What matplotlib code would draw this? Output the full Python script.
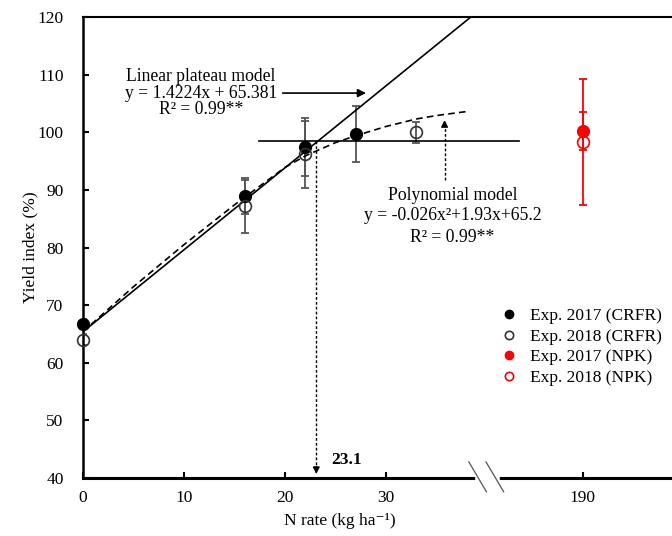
import matplotlib
matplotlib.use("Agg")
import matplotlib.pyplot as plt
from matplotlib.lines import Line2D

plt.rcParams["font.family"] = ["Liberation Serif", "DejaVu Serif"]
plt.rcParams["font.size"] = 12

# CRFR experiments (yield index %, error bars)
n_crfr_2017 = [0, 16, 22, 27]
yi_crfr_2017 = [66.8, 88.9, 97.4, 99.7]
err_crfr_2017 = [0.8, 3.1, 5.0, 4.9]
n_crfr_2018 = [0, 16, 22, 33]
yi_crfr_2018 = [64.0, 87.2, 96.2, 100.0]
err_crfr_2018 = [1.0, 4.6, 5.8, 1.8]

# NPK treatment at 190 kg/ha, drawn after the axis break
n_npk = [190]
yi_npk_2017 = [100.2]
err_npk_2017 = [3.3]
yi_npk_2018 = [98.3]
err_npk_2018 = [10.9]

# linear plateau model
lin_slope, lin_icpt = 1.4224, 65.381
lin_x = [0, 40]
plateau_x = [17.4, 43.2]
plateau_y = 98.5
n_opt = 23.1

# polynomial model curve
poly_x = [0, 5, 10, 15, 20, 22, 25, 27, 30, 33, 35, 38]
poly_y = [65.4, 73.2, 80.5, 87.4, 93.9, 95.9, 98.2, 99.4, 101.0, 102.3, 102.9, 103.6]

xticks = [0, 10, 20, 30, 190]

# broken x axis: 190 is drawn at this position
NPK_POS = 49.5


def xpos(v):
    return NPK_POS if v >= 100 else v


fig = plt.figure(figsize=(6.72, 5.36), dpi=100)
ax = fig.add_axes([83 / 672, 1 - 478 / 536, 1 - 83 / 672, (478 - 17) / 536])

gray = "#555555"
eb = dict(fmt="none", elinewidth=1.3, capsize=3, capthick=1.3, zorder=2)
ax.errorbar(n_crfr_2017, yi_crfr_2017, yerr=err_crfr_2017, ecolor=gray, **eb)
ax.errorbar(n_crfr_2018, yi_crfr_2018, yerr=err_crfr_2018, ecolor=gray, **eb)
npk_x = [xpos(v) for v in n_npk]
ax.errorbar(npk_x, yi_npk_2017, yerr=err_npk_2017, ecolor="red", **eb)
ax.errorbar(npk_x, yi_npk_2018, yerr=err_npk_2018, ecolor="red", **eb)

# models
lin_y = [lin_slope * x + lin_icpt for x in lin_x]
ax.plot(lin_x, lin_y, color="black", lw=1.2, zorder=3)
ax.plot(plateau_x, [plateau_y, plateau_y], color="black", lw=1.2, zorder=3)
ax.plot(poly_x, poly_y, color="black", lw=1.2, ls=(0, (4, 2.5)), zorder=3)

# points
ax.plot(n_crfr_2017, yi_crfr_2017, "o", color="black", ms=8.5, zorder=4,
        clip_on=False)
ax.plot(n_crfr_2018, yi_crfr_2018, "o", mfc="none", mec="#333333",
        mew=1.2, ms=8.5, zorder=4, clip_on=False)
ax.plot(npk_x, yi_npk_2017, "o", color="red", ms=8.5, zorder=4)
ax.plot(npk_x, yi_npk_2018, "o", mfc="none", mec="red", mew=1.2, ms=8.5,
        zorder=4)

# optimum N rate: dotted drop line with arrow
ax.plot([n_opt, n_opt], [plateau_y, 42], color="black", lw=1.0,
        ls=(0, (2, 1.5)), zorder=3)
ax.annotate("", xy=(n_opt, 40.2), xytext=(n_opt, 42.5),
            arrowprops=dict(arrowstyle="-|>", color="black", lw=1.0,
                            mutation_scale=10))
ax.text(24.6, 43.1, "23.1", fontweight="bold", ha="left", va="center",
        fontsize=12.5)

# linear model label + arrow
fs = 12.7
ax.text(11.7, 109.6, "Linear plateau model", ha="center", va="center", fontsize=fs)
ax.text(11.7, 106.8, "y = 1.4224x + 65.381", ha="center", va="center", fontsize=fs)
ax.text(11.7, 103.9, "R² = 0.99**", ha="center", va="center", fontsize=fs)
ax.annotate("", xy=(28.3, 106.8), xytext=(19.5, 106.8),
            arrowprops=dict(arrowstyle="-|>", color="black", lw=1.2,
                            mutation_scale=12))

# polynomial model label + dotted arrow
ax.text(36.6, 89.1, "Polynomial model", ha="center", va="center", fontsize=fs)
ax.text(36.6, 85.6, "y = -0.026x²+1.93x+65.2", ha="center", va="center", fontsize=fs)
ax.text(36.6, 81.8, "R² = 0.99**", ha="center", va="center", fontsize=fs)
ax.plot([35.8, 35.8], [91.7, 101.0], color="black", lw=1.0,
        ls=(0, (2, 1.5)), zorder=3)
ax.annotate("", xy=(35.8, 102.6), xytext=(35.8, 100.8),
            arrowprops=dict(arrowstyle="-|>", color="black", lw=1.0,
                            mutation_scale=10))

ax.set_xlim(0, (672 - 83) / 10.1)
ax.set_ylim(40, 120)
ax.set_yticks(range(40, 121, 10))
ax.set_xticks([xpos(v) for v in xticks])
ax.set_xticklabels([str(v) for v in xticks])
ax.tick_params(direction="in", length=4, width=1.5, labelsize=12.5)
ax.tick_params(axis="x", pad=9)
ax.tick_params(axis="y", pad=14)

ax.spines["right"].set_visible(False)
ax.spines["left"].set_linewidth(1.8)
ax.spines["bottom"].set_linewidth(2.2)
ax.spines["top"].set_linewidth(1.5)

# axis break marks
xt = ax.get_xaxis_transform()
ax.plot([39.1, 41.0], [0, 0], color="white", lw=4, transform=xt,
        clip_on=False, zorder=10)
for x0 in (38.2, 39.9):
    ax.plot([x0, x0 + 1.75], [0.035, -0.03], color="#555555", lw=0.9,
            transform=xt, clip_on=False, zorder=11)

ax.set_ylabel("Yield index (%)", fontsize=12.5, labelpad=-1)
fig.text(340 / 672, 1 - 521 / 536, "N rate (kg ha⁻¹)", ha="center",
         va="center", fontsize=12.5)

handles = [
    Line2D([], [], ls="none", marker="o", color="black", ms=6),
    Line2D([], [], ls="none", marker="o", mfc="none", mec="#333333", mew=1.2, ms=6),
    Line2D([], [], ls="none", marker="o", color="red", ms=6),
    Line2D([], [], ls="none", marker="o", mfc="none", mec="red", mew=1.2, ms=6),
]
labels = ["Exp. 2017 (CRFR)", "Exp. 2018 (CRFR)", "Exp. 2017 (NPK)", "Exp. 2018 (NPK)"]
fig.legend(handles, labels, loc="upper left", bbox_to_anchor=(500 / 672, 1 - 308 / 536),
           frameon=False, fontsize=12.5, handlelength=1.0, handletextpad=0.75,
           labelspacing=0.25, borderpad=0, borderaxespad=0)

fig.savefig("out.png", dpi=100)
